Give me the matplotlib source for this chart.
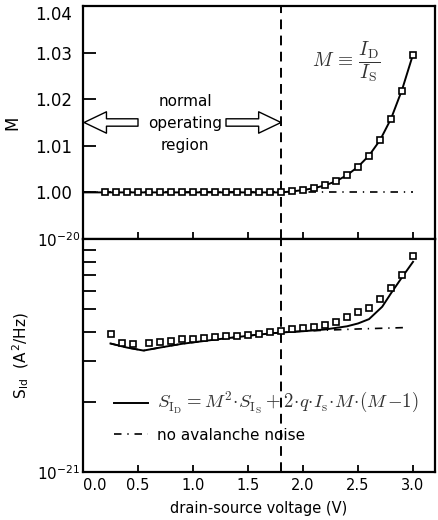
import numpy as np
import matplotlib
matplotlib.use("Agg")
import matplotlib.pyplot as plt
from matplotlib.lines import Line2D

plt.rcParams['font.family'] = ['DejaVu Sans']
plt.rcParams['mathtext.fontset'] = 'cm'

# measured points (squares)
v_meas = [0.2, 0.3, 0.4, 0.5, 0.6, 0.7, 0.8, 0.9, 1.0, 1.1, 1.2, 1.3, 1.4, 1.5,
          1.6, 1.7, 1.8, 1.9, 2.0, 2.1, 2.2, 2.3, 2.4, 2.5, 2.6, 2.7, 2.8, 2.9, 3.0]
M_meas = [1.0, 1.0, 1.0, 1.0, 1.0, 1.0, 1.0, 1.0, 1.0, 1.0, 1.0, 1.0, 1.0, 1.0,
          1.0, 1.0, 1.0, 1.0003, 1.0006, 1.0010, 1.0016, 1.0024, 1.0037, 1.0055,
          1.0079, 1.0113, 1.0158, 1.0218, 1.0295]

v_sid = [0.25, 0.35, 0.45, 0.6, 0.7, 0.8, 0.9, 1.0, 1.1, 1.2, 1.3, 1.4, 1.5, 1.6,
         1.7, 1.8, 1.9, 2.0, 2.1, 2.2, 2.3, 2.4, 2.5, 2.6, 2.7, 2.8, 2.9, 3.0]
sid_meas = [3.91, 3.57, 3.54, 3.57, 3.61, 3.66, 3.71, 3.74, 3.77, 3.80, 3.82, 3.84,
            3.88, 3.90, 3.98, 4.03, 4.09, 4.14, 4.20, 4.29, 4.42, 4.61, 4.85, 5.07,
            5.53, 6.18, 7.03, 8.45]

# model curves
v_mod = [0.0, 1.8, 1.9, 2.0, 2.1, 2.2, 2.3, 2.4, 2.5, 2.6, 2.7, 2.8, 2.9, 3.0]
M_mod = [1.0, 1.0, 1.0002, 1.0005, 1.0009, 1.0015, 1.0024, 1.0037, 1.0055,
         1.0079, 1.0112, 1.0158, 1.0220, 1.0296]
v_noav = [0.0, 3.0]
M_noav = [1.0, 1.0]

v_smod = [0.25, 0.4, 0.55, 0.7, 0.9, 1.2, 1.6, 1.8, 2.0, 2.2, 2.4, 2.5, 2.6,
          2.72, 2.8, 2.9, 3.0]
sid_mod = [3.56, 3.42, 3.32, 3.42, 3.55, 3.70, 3.89, 3.97, 4.02, 4.09, 4.22,
           4.34, 4.53, 5.12, 5.85, 6.85, 7.98]
v_snoav = [0.25, 0.4, 0.55, 0.7, 0.9, 1.2, 1.6, 1.8, 2.0, 2.2, 2.5, 2.95]
sid_noav = [3.56, 3.42, 3.32, 3.42, 3.55, 3.70, 3.89, 3.97, 4.02, 4.06, 4.11, 4.17]

x_ticks = [0.0, 0.5, 1.0, 1.5, 2.0, 2.5, 3.0]
m_ticks = [1.00, 1.01, 1.02, 1.03, 1.04]
v_region = 1.8

dashdot = (0, (4.5, 3.5, 0.8, 3.5))

fig = plt.figure(figsize=(4.38, 5.2), dpi=100)
ax1 = fig.add_axes([0.1895, 0.5404, 0.8037, 0.4481])
ax2 = fig.add_axes([0.1895, 0.0923, 0.8037, 0.4481])

for ax in (ax1, ax2):
    for s in ax.spines.values():
        s.set_linewidth(1.6)
    ax.set_xlim(0, 3.2)
    ax.set_xticks(x_ticks)
    ax.tick_params(axis='both', which='both', direction='in', top=False, right=False)
    ax.tick_params(axis='x', length=5, width=1.3, pad=4, labelsize=10.5)
    ax.axvline(v_region, color='k', lw=1.4, ls=(0, (5, 3.3)))

# top panel: multiplication factor
ax1.plot(v_noav, M_noav, color='k', lw=1.2, ls=dashdot)
ax1.plot(v_mod, M_mod, color='k', lw=1.4)
ax1.plot(v_meas, M_meas, ls='none', marker='s', ms=4, mfc='white', mec='k', mew=1.2)
ax1.set_ylim(0.99, 1.04)
ax1.set_yticks(m_ticks)
ax1.set_yticklabels(['%.2f' % t for t in m_ticks])
ax1.tick_params(axis='y', length=9, width=1.3, pad=8, labelsize=12)
ax1.tick_params(axis='x', labelbottom=False)
ax1.get_yticklabels()[-1].set_verticalalignment('top')
ax1.set_ylabel('M', fontsize=12)
ax1.yaxis.set_label_coords(-0.176, 0.5)

ax1.text(0.93, 1.0148, 'normal\noperating\nregion', ha='center', va='center',
         fontsize=11, linespacing=1.6)
arrow = dict(arrowstyle='simple,head_length=1.15,head_width=1.1,tail_width=0.38',
             fc='white', ec='k', lw=1, mutation_scale=14, shrinkA=0, shrinkB=0)
ax1.annotate('', xy=(0.01, 1.015), xytext=(0.5, 1.015), arrowprops=arrow)
ax1.annotate('', xy=(1.8, 1.015), xytext=(1.3, 1.015), arrowprops=arrow)
ax1.text(2.08, 1.028, r'$M\, \equiv\, \dfrac{I_{\mathrm{D}}}{I_{\mathrm{S}}}$',
         ha='left', va='center', fontsize=14, color='#333333')

# bottom panel: drain current noise
ax2.set_yscale('log')
ax2.plot(v_snoav, np.array(sid_noav) * 1e-21, color='k', lw=1.2, ls=dashdot)
ax2.plot(v_smod, np.array(sid_mod) * 1e-21, color='k', lw=1.4)
ax2.plot(v_sid, np.array(sid_meas) * 1e-21, ls='none', marker='s', ms=4.5,
         mfc='white', mec='k', mew=1.2)
ax2.set_ylim(1e-21, 1e-20)
ax2.set_yticks([1e-21, 1e-20])
ax2.set_yticklabels([r'$\mathdefault{10^{-21}}$', r'$\mathdefault{10^{-20}}$'])
ax2.set_yticks([k * 1e-21 for k in range(2, 10)], minor=True)
ax2.set_yticklabels([], minor=True)
ax2.tick_params(axis='y', which='both', length=9, width=1.3, pad=2, labelsize=11)
ax2.set_xticklabels(['%.1f' % t for t in x_ticks])
ax2.get_xticklabels()[0].set_horizontalalignment('left')
ax2.set_xlabel('drain-source voltage (V)', fontsize=10.5, labelpad=6)
ax2.set_ylabel(r'S$_\mathdefault{Id}$  (A$^\mathdefault{2}$/Hz)', fontsize=11)
ax2.yaxis.set_label_coords(-0.148, 0.5)

handles = [Line2D([], [], color='k', lw=1.4), Line2D([], [], color='k', lw=1.2, ls=dashdot)]
labels = [r'$S_{\mathrm{I_D}} = M^2\!\cdot\!S_{\mathrm{I_S}} + 2\!\cdot\!q\!\cdot\!I_{\mathrm{s}}\!\cdot\!M\!\cdot\!(M\,{-}1)$',
          'no avalanche noise']
leg = ax2.legend(handles, labels, loc='center left', bbox_to_anchor=(0.05, 0.24),
                 frameon=False, fontsize=11, handlelength=2.2, handletextpad=0.6,
                 labelspacing=0.8)
leg.get_texts()[0].set_fontsize(13.5)
leg.get_texts()[0].set_color('#333333')

fig.savefig('out.png', dpi=100)
